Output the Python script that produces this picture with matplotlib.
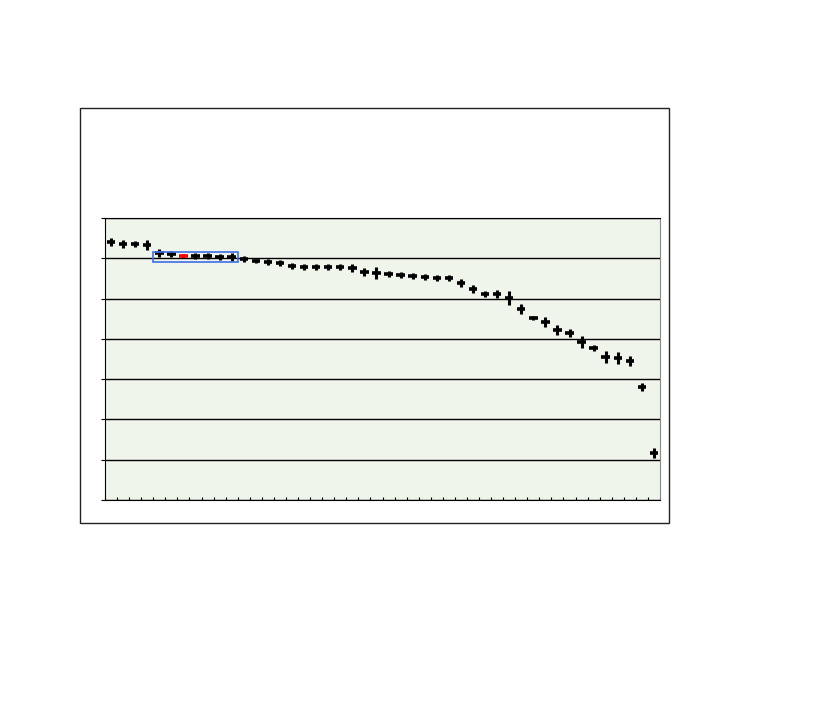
import matplotlib
matplotlib.use("Agg")
import matplotlib.pyplot as plt
import numpy as np
from matplotlib.patches import Rectangle

# values (y axis 0..7, one unit per grid line)
values = [6.40, 6.35, 6.35, 6.33, 6.13, 6.10, 6.05, 6.05, 6.05, 6.03,
          6.03, 5.98, 5.93, 5.91, 5.88, 5.81, 5.78, 5.78, 5.78, 5.78,
          5.76, 5.66, 5.63, 5.61, 5.58, 5.56, 5.53, 5.51, 5.51, 5.38,
          5.24, 5.11, 5.11, 5.01, 4.74, 4.52, 4.42, 4.22, 4.14, 3.92,
          3.77, 3.55, 3.52, 3.45, 2.80, 1.17]
errors = [0.10, 0.10, 0.08, 0.13, 0.10, 0.08, 0.05, 0.08, 0.08, 0.08,
          0.10, 0.08, 0.05, 0.08, 0.08, 0.08, 0.08, 0.08, 0.08, 0.08,
          0.10, 0.10, 0.15, 0.08, 0.08, 0.08, 0.08, 0.08, 0.08, 0.10,
          0.10, 0.08, 0.10, 0.17, 0.12, 0.05, 0.12, 0.12, 0.10, 0.15,
          0.08, 0.15, 0.15, 0.12, 0.10, 0.12]
highlight = 6          # the red one
box_range = (4, 11)    # categories inside the blue box

n = len(values)
x = np.arange(n) + 0.5

fig = plt.figure(figsize=(8.27, 7.09), dpi=100)

# outer frame of the chart
fig.patches.append(Rectangle((80 / 827, 1 - 523 / 709), 589 / 827, 415 / 709,
                             transform=fig.transFigure, fill=False,
                             edgecolor="#222222", linewidth=1.0))

ax = fig.add_axes([105 / 827, 1 - 500 / 709, 555 / 827, 282 / 709])
ax.set_facecolor("#eff5ea")

for i in range(n):
    col = "red" if i == highlight else "black"
    ax.errorbar(x[i], values[i], yerr=errors[i], fmt="none", ecolor="black",
                elinewidth=2.2, capsize=0, zorder=3)
    ax.errorbar(x[i], values[i], xerr=0.35, fmt="none", ecolor=col,
                elinewidth=2.6, capsize=0, zorder=4)

ax.add_patch(Rectangle((box_range[0], 5.9), box_range[1] - box_range[0], 0.25,
                       fill=False, edgecolor="#3f6ee8", linewidth=1.2, zorder=5))

ax.set_xlim(0, n)
ax.set_ylim(0, 7)
ax.set_yticks(range(8))
ax.set_xticks(range(n + 1))
ax.set_xticklabels([])
ax.set_yticklabels([])
ax.tick_params(axis="x", direction="in", length=2, width=0.8)
ax.tick_params(axis="y", direction="out", length=3, width=0.8)
ax.grid(axis="y", color="black", linewidth=1.0)
ax.set_axisbelow(True)

ax.spines["left"].set_color("black")
ax.spines["bottom"].set_color("black")
ax.spines["top"].set_color("black")
ax.spines["right"].set_color("#888888")

fig.savefig("out.png", dpi=100)
